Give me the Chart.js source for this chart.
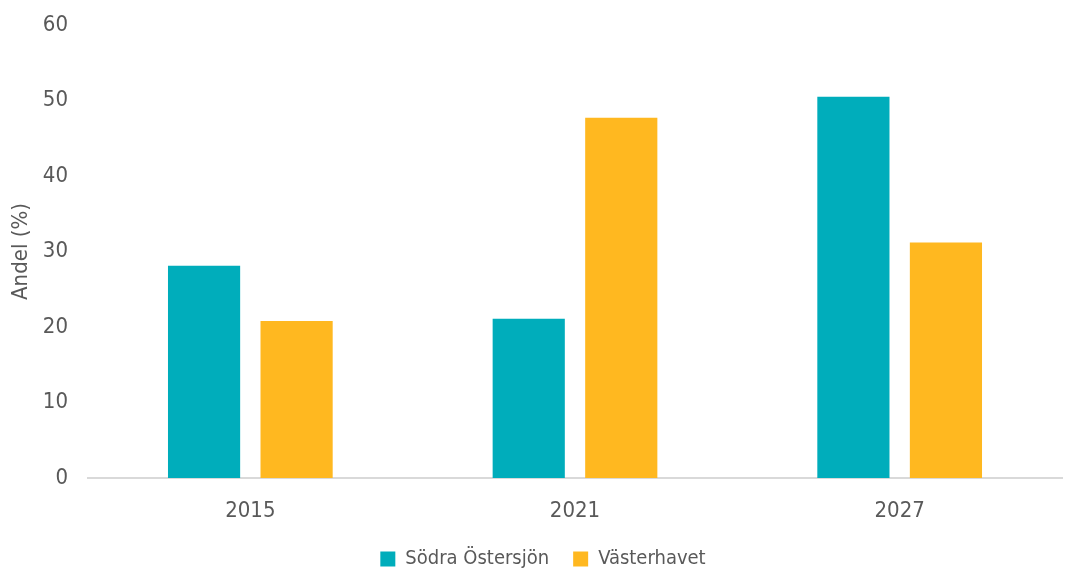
<!DOCTYPE html>
<html>
<head>
<meta charset="utf-8">
<script src="https://cdn.jsdelivr.net/npm/chart.js@4"></script>
<style>
  html, body { margin: 0; padding: 0; background: #fff; }
  #wrap { width: 1065px; height: 571px; }
</style>
</head>
<body>
<div id="wrap"><canvas id="barChart"></canvas></div>
<script>
const years = ["2015", "2021", "2027"];
const sodraOstersjon = [28.1, 21.1, 50.5];
const vasterhavet = [20.8, 47.7, 31.2];
const yTicks = [0, 10, 20, 30, 40, 50, 60];

Chart.defaults.font.family = "'DejaVu Sans Condensed', 'Roboto', sans-serif";
Chart.defaults.color = "#595959";

const ctx = document.getElementById("barChart");
const barChart = new Chart(ctx, {
  type: "bar",
  data: {
    labels: years,
    datasets: [
      {
        label: "Södra Östersjön",
        data: sodraOstersjon,
        backgroundColor: "#00ADBB",
        categoryPercentage: 0.57,
        barPercentage: 0.78,
      },
      {
        label: "Västerhavet",
        data: vasterhavet,
        backgroundColor: "#FFB820",
        categoryPercentage: 0.57,
        barPercentage: 0.78,
      },
    ],
  },
  options: {
    responsive: true,
    maintainAspectRatio: false,
    animation: false,
    // extra left padding nudges the legend right; y axis width compensates
    layout: { padding: { left: 24, right: 3, top: 25, bottom: 0 } },
    plugins: {
      legend: {
        position: "bottom",
        maxHeight: 46,
        labels: {
          boxWidth: 15,
          boxHeight: 15,
          padding: 24,
          font: { size: 20 },
          color: "#595959",
        },
      },
      tooltip: { enabled: false },
    },
    scales: {
      x: {
        grid: { display: false, drawTicks: false },
        border: { color: "#d9d9d9", width: 2 },
        ticks: { font: { size: 22 }, padding: 20 },
        afterFit: axis => { axis.height = 47; },
      },
      y: {
        min: 0,
        max: 60,
        afterBuildTicks: axis => {
          axis.ticks = yTicks.map(v => ({ value: v }));
        },
        grid: { display: false, drawTicks: false },
        border: { display: false },
        ticks: { font: { size: 22 }, padding: 20 },
        afterFit: axis => {
          axis.width = 64;
          axis.paddingTop = 0;
        },
        title: {
          display: true,
          text: "Andel (%)",
          font: { size: 22 },
          color: "#595959",
          padding: { top: -16, bottom: 10 },
        },
      },
    },
  },
});
</script>
</body>
</html>
